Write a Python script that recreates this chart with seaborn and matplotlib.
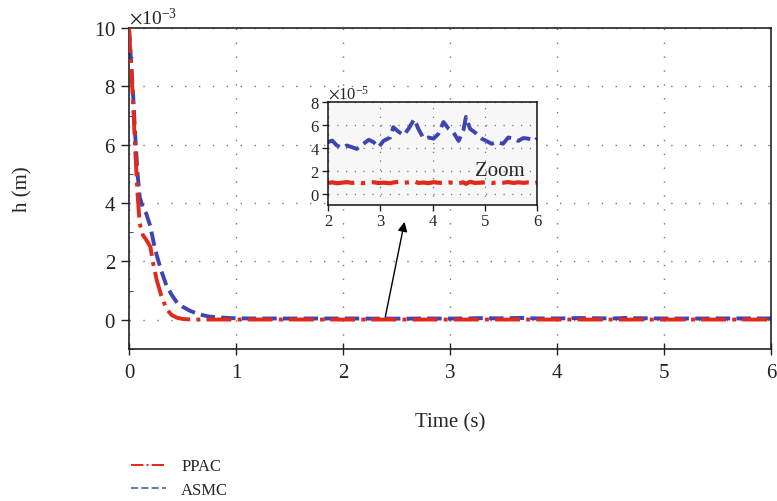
import numpy as np
import pandas as pd
import matplotlib
matplotlib.use("Agg")
import matplotlib.pyplot as plt
from matplotlib.lines import Line2D
import seaborn as sns
from matplotlib.ticker import ScalarFormatter, MultipleLocator

# ---- data ----
t_fast = [0, 0.02, 0.04, 0.06, 0.08, 0.10, 0.13, 0.16, 0.20, 0.23, 0.26, 0.30, 0.35, 0.40,
          0.45, 0.50, 0.57, 0.65, 0.75, 0.85, 1.0, 1.2, 1.5, 1.8]
ppac_fast = [10, 8.7, 7.3, 5.7, 4.3, 3.3, 2.9, 2.75, 2.5, 1.85, 1.35, 0.85, 0.37, 0.16,
             0.07, 0.03, 0.012, 0.01, 0.01, 0.01, 0.01, 0.01, 0.01, 0.01]          # x1e-3
asmc_fast = [10, 8.8, 7.6, 6.2, 5.0, 4.2, 3.85, 3.65, 3.2, 2.65, 2.2, 1.7, 1.17, 0.85,
             0.58, 0.45, 0.31, 0.19, 0.11, 0.08, 0.05, 0.045, 0.045, 0.045]       # x1e-3

t_zoom = [2.00, 2.08, 2.17, 2.27, 2.36, 2.46, 2.55, 2.65, 2.78, 2.87, 2.97, 3.06, 3.19, 3.25,
          3.35, 3.45, 3.54, 3.65, 3.73, 3.83, 3.92, 4.02, 4.11, 4.21, 4.31, 4.40, 4.50, 4.59,
          4.64, 4.72, 4.81, 4.94, 5.03, 5.13, 5.23, 5.35, 5.45, 5.55, 5.64, 5.74, 5.83, 5.96, 6.00]
asmc_zoom = [4.49, 4.63, 4.2, 4.0, 4.2, 4.05, 3.9, 4.25, 4.7, 4.5, 4.05, 4.6, 4.9, 5.8,
             5.4, 5.1, 5.65, 6.5, 5.65, 4.8, 4.9, 4.8, 5.2, 6.25, 5.65, 5.35, 4.6, 5.5,
             6.7, 5.65, 5.35, 4.8, 4.6, 4.35, 4.5, 4.35, 4.9, 4.8, 4.6, 4.85, 4.8, 4.6, 4.8]  # x1e-5
ppac_zoom = [0.92, 0.98, 0.90, 0.95, 1.00, 0.93, 0.97, 0.91, 0.96, 0.99, 0.92, 0.95, 0.90, 0.97,
             1.02, 0.94, 0.98, 1.05, 0.93, 0.96, 0.91, 0.99, 0.95, 0.92, 0.97, 0.94, 0.90, 0.98,
             0.85, 1.03, 0.93, 0.96, 0.99, 0.92, 0.97, 0.95, 1.00, 0.93, 0.98, 0.94, 0.97, 0.92, 0.96]  # x1e-5

x_ticks = [0, 1, 2, 3, 4, 5, 6]
inset_x_ticks = [2, 3, 4, 5, 6]
series_names = ["PPAC", "ASMC"]

RED = "#e02a1c"
BLUE = "#3d45b2"

main_t = np.array(t_fast + t_zoom)
main_ppac = np.concatenate([np.array(ppac_fast) * 1e-3, np.array(ppac_zoom) * 1e-5])
main_asmc = np.concatenate([np.array(asmc_fast) * 1e-3, np.array(asmc_zoom) * 1e-5])

df_main = pd.DataFrame({"t": main_t, "PPAC": main_ppac, "ASMC": main_asmc})
df_zoom = pd.DataFrame({"t": t_zoom, "PPAC": np.array(ppac_zoom) * 1e-5,
                        "ASMC": np.array(asmc_zoom) * 1e-5})

sns.set_style("white")
plt.rcParams["font.family"] = ["Liberation Serif", "DejaVu Serif"]
plt.rcParams["mathtext.fontset"] = "stix"

fig = plt.figure(figsize=(7.77, 5.02), dpi=100)
ax = fig.add_axes([129 / 777, 1 - 350 / 502, (771 - 129) / 777, (350 - 29) / 502])

sns.lineplot(data=df_main, x="t", y="PPAC", ax=ax, color=RED, linestyle="-.", lw=2.8,
             estimator=None, sort=False, zorder=3)
sns.lineplot(data=df_main, x="t", y="ASMC", ax=ax, color=BLUE, linestyle="--", lw=2.8,
             estimator=None, sort=False, zorder=2)

ax.set_xlim(0, 6)
ax.set_ylim(-1e-3, 10e-3)
ax.set_xticks(x_ticks)
ax.yaxis.set_major_locator(MultipleLocator(2e-3))
ax.yaxis.set_minor_locator(MultipleLocator(1e-3))
fmt = ScalarFormatter(useMathText=True)
fmt.set_powerlimits((-3, -3))
ax.yaxis.set_major_formatter(fmt)
ax.yaxis.get_offset_text().set_fontsize(14)
ax.grid(True, which="major", linestyle=(0, (1, 9)), color="#777777", lw=1.0)
for s in ax.spines.values():
    s.set_visible(True)
    s.set_color("#222222")
    s.set_linewidth(1.2)
ax.tick_params(axis="both", which="major", labelsize=15, direction="out", length=6,
               width=1, colors="#222222", left=True, bottom=True)
ax.tick_params(axis="y", which="minor", direction="in", length=3, left=True)
ax.tick_params(axis="x", which="major", direction="inout", length=8, pad=6)
ax.set_xlabel("Time (s)", fontsize=15, labelpad=22)
ax.set_ylabel("h (m)", fontsize=15, labelpad=44)

# arrow
ax.annotate("", xy=(2.58, 3.45e-3), xytext=(2.39, 0), xycoords="data",
            arrowprops=dict(arrowstyle="-|>", color="black", lw=1.0, mutation_scale=14),
            zorder=6)

# inset
ins = fig.add_axes([328 / 777, 1 - 206 / 502, (537 - 328) / 777, (206 - 103) / 502])
ins.set_facecolor("#f7f7f7")
sns.lineplot(data=df_zoom, x="t", y="PPAC", ax=ins, color=RED, linestyle="-.", lw=3.0,
             estimator=None, sort=False)
sns.lineplot(data=df_zoom, x="t", y="ASMC", ax=ins, color=BLUE, linestyle="--", lw=2.8,
             estimator=None, sort=False)
ins.set_xlim(2, 6)
ins.set_ylim(-1e-5, 8e-5)
ins.set_xticks(inset_x_ticks)
ins.yaxis.set_major_locator(MultipleLocator(2e-5))
fmt2 = ScalarFormatter(useMathText=True)
fmt2.set_powerlimits((-5, -5))
ins.yaxis.set_major_formatter(fmt2)
ins.yaxis.get_offset_text().set_fontsize(12)
ins.grid(True, linestyle=(0, (1, 6)), color="#777777", lw=0.9)
for s in ins.spines.values():
    s.set_visible(True)
    s.set_color("#111111")
    s.set_linewidth(1.1)
ins.tick_params(axis="both", labelsize=12, direction="out", length=4, width=1,
                left=True, bottom=True, pad=2)
ins.set_xlabel("")
ins.set_ylabel("")
ins.text(5.28, 2.0e-5, "Zoom", fontsize=15, ha="center", va="center")

# legend
handles = [Line2D([], [], color=RED, linestyle="-.", lw=1.4),
           Line2D([], [], color=BLUE, linestyle="--", lw=1.4, alpha=0.75)]
fig.legend(handles, series_names, loc="upper left", bbox_to_anchor=(118 / 777, 1 - 446 / 502),
           frameon=False, fontsize=12, handlelength=2.1, handletextpad=0.9, labelspacing=0.45,
           borderpad=0.3)

fig.savefig("out.png", dpi=100)
